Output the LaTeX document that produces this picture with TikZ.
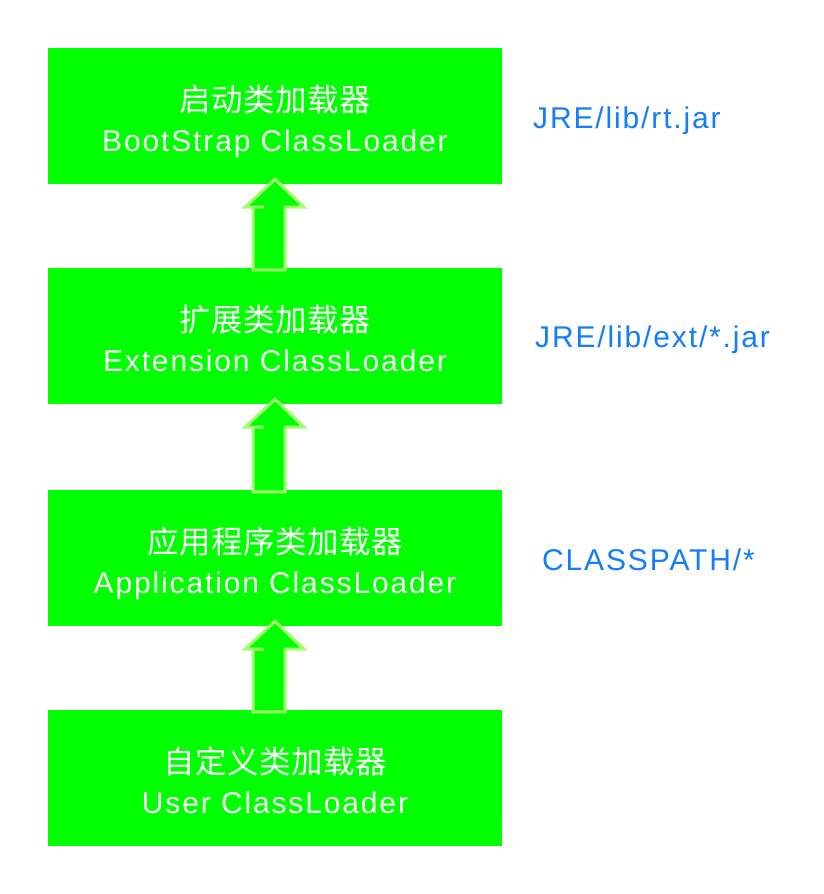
\documentclass[tikz,border=0pt]{standalone}
\usepackage{fontspec}
\setmainfont{Liberation Sans}[LetterSpace=6.2]
\newfontfamily\cjk{Noto Sans CJK SC}[LetterSpace=1.5]
\usetikzlibrary{calc}
\definecolor{boxgreen}{RGB}{0,255,0}
\definecolor{edgegreen}{RGB}{160,255,110}
\definecolor{pathblue}{RGB}{20,125,250}
\begin{document}
\begin{tikzpicture}[x=1pt,y=-1pt,
  loader/.style={fill=boxgreen,draw=none,minimum width=454pt,minimum height=136pt,inner sep=0pt},
  cjktext/.style={text=white,anchor=base,inner sep=0pt,font=\cjk\fontsize{31.5}{34}\selectfont},
  lattext/.style={text=white,anchor=base,inner sep=0pt,font=\fontsize{30}{34}\selectfont},
  pathlabel/.style={text=pathblue,anchor=base west,inner sep=0pt,font=\fontsize{30}{34}\selectfont},
  uparrow/.style={fill=boxgreen,draw=edgegreen,line width=3pt,line join=miter}
]
\useasboundingbox (0,0) rectangle (824,894);
\node[loader] (b1) at (275,116) {};
\node[loader] (b2) at (275,336) {};
\node[loader] (b3) at (275,558) {};
\node[loader] (b4) at (275,778) {};
\node[cjktext] (c1) at ($(b1.center)+(0,-5)$) {启动类加载器};
\node[lattext] (l1) at ($(b1.center)+(0,35)$) {BootStrap ClassLoader};
\node[cjktext] (c2) at ($(b2.center)+(0,-5)$) {扩展类加载器};
\node[lattext] (l2) at ($(b2.center)+(0,35)$) {Extension ClassLoader};
\node[cjktext] (c3) at ($(b3.center)+(0,-5)$) {应用程序类加载器};
\node[lattext] (l3) at ($(b3.center)+(0,35)$) {Application ClassLoader};
\node[cjktext] (c4) at ($(b4.center)+(0,-5)$) {自定义类加载器};
\node[lattext] (l4) at ($(b4.center)+(0,35)$) {User ClassLoader};
\node[pathlabel] (p1) at (533,128.3) {JRE/lib/rt.jar};
\node[pathlabel] (p2) at (535,347.3) {JRE/lib/ext/*.jar};
\node[pathlabel] (p3) at (542,570) {CLASSPATH/*};
\foreach \u/\l in {b1/b2,b2/b3,b3/b4}{
  \draw[uparrow] ($(\u.south)+(0,-5)$) -- ++(29,28) -- ++(-19,0)
     |- ($(\l.north)+(0,2)$) -- ++(-22,0) |- ($(\u.south)+(-11,23)$)
     -- ++(-19,0) -- cycle;
}
\end{tikzpicture}
\end{document}
